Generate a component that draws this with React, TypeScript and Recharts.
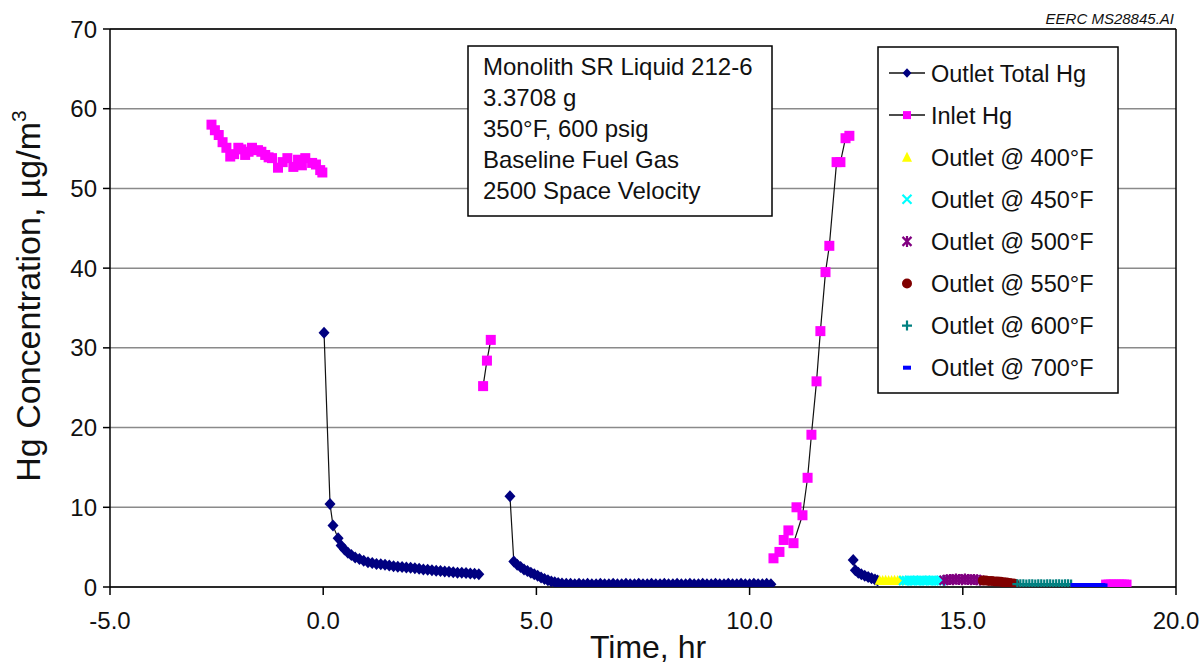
import React from 'react';
import { ScatterChart, Scatter, XAxis, YAxis, CartesianGrid, ReferenceLine } from 'recharts';

type Pt = [number, number];

// Outlet Total Hg, three runs of readings
const outletTotalA: Pt[] = [
  [0.02, 31.9], [0.16, 10.4], [0.23, 7.7], [0.35, 6.1], [0.42, 5.2], [0.5, 4.7], [0.58, 4.3], [0.66, 4.0],
  [0.75, 3.7], [0.85, 3.5], [0.95, 3.3], [1.05, 3.1], [1.15, 3.0], [1.25, 2.9], [1.35, 2.85], [1.45, 2.8],
  [1.55, 2.7], [1.65, 2.6], [1.75, 2.55], [1.85, 2.5], [1.95, 2.45], [2.05, 2.4], [2.15, 2.35], [2.25, 2.3],
  [2.35, 2.2], [2.45, 2.15], [2.55, 2.1], [2.65, 2.05], [2.75, 2.0], [2.85, 1.95], [2.95, 1.9], [3.05, 1.85],
  [3.15, 1.8], [3.25, 1.8], [3.35, 1.75], [3.45, 1.7], [3.55, 1.65], [3.65, 1.6],
];
const outletTotalB: Pt[] = [
  [4.38, 11.4], [4.47, 3.2], [4.55, 2.8], [4.63, 2.5], [4.71, 2.2], [4.79, 2.0], [4.87, 1.8], [4.95, 1.6],
  [5.03, 1.4], [5.11, 1.2], [5.19, 1.0], [5.27, 0.85], [5.35, 0.7], [5.43, 0.6], [5.51, 0.5], [5.6, 0.45],
  [5.7, 0.4], [5.8, 0.4], [5.9, 0.35], [6.0, 0.4], [6.1, 0.35], [6.2, 0.4], [6.3, 0.35], [6.4, 0.35],
  [6.5, 0.4], [6.6, 0.35], [6.7, 0.35], [6.8, 0.4], [6.9, 0.35], [7.0, 0.35], [7.1, 0.4], [7.2, 0.35],
  [7.3, 0.35], [7.4, 0.4], [7.5, 0.35], [7.6, 0.35], [7.7, 0.4], [7.8, 0.35], [7.9, 0.35], [8.0, 0.4],
  [8.1, 0.35], [8.2, 0.35], [8.3, 0.4], [8.4, 0.35], [8.5, 0.35], [8.6, 0.4], [8.7, 0.35], [8.8, 0.35],
  [8.9, 0.4], [9.0, 0.35], [9.1, 0.35], [9.2, 0.4], [9.3, 0.35], [9.4, 0.35], [9.5, 0.4], [9.6, 0.35],
  [9.7, 0.35], [9.8, 0.4], [9.9, 0.35], [10.0, 0.35], [10.1, 0.4], [10.2, 0.35], [10.3, 0.35], [10.4, 0.4],
  [10.5, 0.35],
];
const outletTotalC: Pt[] = [
  [12.43, 3.4], [12.48, 2.1], [12.55, 1.8], [12.62, 1.6], [12.7, 1.4], [12.78, 1.25], [12.86, 1.1],
  [12.94, 0.95], [13.0, 0.8],
];

// Inlet Hg
const inletA: Pt[] = [
  [-2.62, 58.0], [-2.54, 57.3], [-2.45, 56.7], [-2.36, 55.8], [-2.27, 55.1], [-2.18, 54.0], [-2.09, 54.3],
  [-1.99, 55.1], [-1.92, 54.9], [-1.83, 54.2], [-1.75, 54.6], [-1.67, 55.1], [-1.53, 54.8], [-1.45, 54.6],
  [-1.36, 54.2], [-1.28, 53.9], [-1.2, 53.8], [-1.06, 52.6], [-0.95, 53.3], [-0.84, 53.8], [-0.7, 52.7],
  [-0.59, 53.6], [-0.5, 52.9], [-0.42, 53.8], [-0.26, 53.2], [-0.17, 53.0], [-0.07, 52.3], [-0.02, 52.0],
];
const inletB: Pt[] = [[3.75, 25.2], [3.84, 28.4], [3.93, 31.0]];
const inletC: Pt[] = [[10.56, 3.6], [10.7, 4.4], [10.8, 5.9], [10.91, 7.1], [11.1, 10.0]];
const inletD: Pt[] = [
  [11.03, 5.5], [11.24, 9.0], [11.36, 13.7], [11.45, 19.1], [11.57, 25.8], [11.66, 32.1], [11.78, 39.5],
  [11.87, 42.8], [12.04, 53.3], [12.13, 53.3], [12.25, 56.3], [12.34, 56.6],
];
const inletE: Pt[] = [
  [18.36, 0.3], [18.42, 0.3], [18.48, 0.3], [18.54, 0.3], [18.6, 0.3], [18.66, 0.3], [18.72, 0.3],
  [18.78, 0.3], [18.84, 0.3],
];

// Outlet at stepped temperatures
const outlet400: Pt[] = [
  [13.05, 0.85], [13.12, 0.8], [13.19, 0.85], [13.26, 0.8], [13.33, 0.8], [13.4, 0.85], [13.47, 0.8], [13.54, 0.8],
];
const outlet450: Pt[] = [
  [13.61, 0.8], [13.68, 0.8], [13.75, 0.85], [13.82, 0.8], [13.89, 0.8], [13.96, 0.8], [14.03, 0.85],
  [14.1, 0.8], [14.17, 0.8], [14.24, 0.8], [14.31, 0.85], [14.38, 0.8], [14.45, 0.8], [14.5, 0.8],
];
const outlet500: Pt[] = [
  [14.56, 0.85], [14.63, 0.9], [14.7, 0.95], [14.77, 0.9], [14.84, 1.0], [14.91, 0.95], [14.98, 0.9],
  [15.05, 1.0], [15.12, 0.95], [15.19, 0.9], [15.26, 0.95], [15.33, 0.9], [15.4, 0.85],
];
const outlet550: Pt[] = [
  [15.47, 0.8], [15.54, 0.8], [15.61, 0.75], [15.68, 0.75], [15.75, 0.7], [15.82, 0.7], [15.89, 0.65],
  [15.96, 0.6], [16.03, 0.55], [16.1, 0.5], [16.17, 0.45], [16.22, 0.4],
];
const outlet600: Pt[] = [
  [16.28, 0.35], [16.35, 0.35], [16.42, 0.35], [16.49, 0.3], [16.56, 0.35], [16.63, 0.35], [16.7, 0.3],
  [16.77, 0.35], [16.84, 0.35], [16.91, 0.3], [16.98, 0.35], [17.05, 0.35], [17.12, 0.3], [17.19, 0.35],
  [17.26, 0.35], [17.33, 0.3], [17.4, 0.35], [17.47, 0.35], [17.54, 0.3],
];
const outlet700: Pt[] = [
  [17.62, 0.25], [17.69, 0.25], [17.76, 0.2], [17.83, 0.25], [17.9, 0.2], [17.97, 0.25], [18.04, 0.2],
  [18.11, 0.25], [18.18, 0.2], [18.25, 0.25], [18.3, 0.2],
];

const xTicks = [-5, 0, 5, 10, 15, 20];
const yTicks = [0, 10, 20, 30, 40, 50, 60, 70];

const legendItems = [
  { name: 'Outlet Total Hg', kind: 'diamond', line: true },
  { name: 'Inlet Hg', kind: 'square', line: true },
  { name: 'Outlet @ 400°F', kind: 'triangle', line: false },
  { name: 'Outlet @ 450°F', kind: 'x', line: false },
  { name: 'Outlet @ 500°F', kind: 'star', line: false },
  { name: 'Outlet @ 550°F', kind: 'circle', line: false },
  { name: 'Outlet @ 600°F', kind: 'plus', line: false },
  { name: 'Outlet @ 700°F', kind: 'dash', line: false },
];

const noteLines = [
  'Monolith SR Liquid 212-6',
  '3.3708 g',
  '350°F, 600 psig',
  'Baseline Fuel Gas',
  '2500 Space Velocity',
];

const FONT = '"Liberation Sans", Arial, Helvetica, sans-serif';

const toPts = (arr: Pt[]) => arr.map(([x, y]) => ({ x, y }));

function Marker({ kind, cx, cy, s = 1 }: { kind: string; cx: number; cy: number; s?: number }) {
  switch (kind) {
    case 'diamond':
      return <path d={`M${cx},${cy - 6 * s}L${cx + 5.5 * s},${cy}L${cx},${cy + 6 * s}L${cx - 5.5 * s},${cy}Z`} fill="#000080" />;
    case 'square':
      return <rect x={cx - 5 * s} y={cy - 5 * s} width={10 * s} height={10 * s} fill="#ff00ff" />;
    case 'triangle':
      return <path d={`M${cx},${cy - 5.5}L${cx + 5},${cy + 4.5}L${cx - 5},${cy + 4.5}Z`} fill="#ffff00" />;
    case 'x':
      return (
        <path d={`M${cx - 4.5},${cy - 4.5}L${cx + 4.5},${cy + 4.5}M${cx + 4.5},${cy - 4.5}L${cx - 4.5},${cy + 4.5}`}
          stroke="#00ffff" strokeWidth={2.2} />
      );
    case 'star':
      return (
        <path d={`M${cx - 4.5},${cy - 4.5}L${cx + 4.5},${cy + 4.5}M${cx + 4.5},${cy - 4.5}L${cx - 4.5},${cy + 4.5}M${cx},${cy - 5.5}L${cx},${cy + 5.5}`}
          stroke="#800080" strokeWidth={2.2} />
      );
    case 'circle':
      return <circle cx={cx} cy={cy} r={5} fill="#800000" />;
    case 'plus':
      return (
        <path d={`M${cx - 5},${cy}L${cx + 5},${cy}M${cx},${cy - 5}L${cx},${cy + 5}`}
          stroke="#008080" strokeWidth={2.2} />
      );
    default:
      return <rect x={cx - 4} y={cy - 2} width={8} height={4} fill="#0000ff" />;
  }
}

const shapeOf = (kind: string) => (p: any) => <Marker kind={kind} cx={p.cx} cy={p.cy} />;

const seriesLine = { stroke: '#111', strokeWidth: 1.2 };

export default function App() {
  return (
    <div style={{ position: 'absolute', left: 0, top: 0, width: 1203, height: 664, background: '#fff' }}>
      <ScatterChart width={1203} height={664} margin={{ top: 29, right: 27, bottom: 47, left: 0 }}>
        <CartesianGrid vertical={false} stroke="#8a8a8a" strokeWidth={1.5} />
        <XAxis
          type="number"
          dataKey="x"
          domain={[-5, 20]}
          ticks={xTicks}
          tickFormatter={(v: number) => v.toFixed(1)}
          height={30}
          tickSize={8}
          tickMargin={17}
          stroke="#000"
          strokeWidth={1.5}
          tick={{ fill: '#111', fontSize: 24, fontFamily: FONT }}
          allowDataOverflow
        />
        <YAxis
          type="number"
          dataKey="y"
          domain={[0, 70]}
          ticks={yTicks}
          width={110}
          tickSize={7}
          tickMargin={6}
          stroke="#000"
          strokeWidth={1.5}
          tick={{ fill: '#111', fontSize: 24, fontFamily: FONT }}
          allowDataOverflow
        />
        <ReferenceLine y={70} stroke="#000" strokeWidth={1.5} />
        <ReferenceLine x={20} stroke="#000" strokeWidth={1.5} />

        <Scatter name="Outlet Total Hg" data={toPts(outletTotalA)} line={seriesLine} shape={shapeOf('diamond')} isAnimationActive={false} />
        <Scatter data={toPts(outletTotalB)} line={seriesLine} shape={shapeOf('diamond')} isAnimationActive={false} />
        <Scatter data={toPts(outletTotalC)} line={seriesLine} shape={shapeOf('diamond')} isAnimationActive={false} />

        <Scatter name="Inlet Hg" data={toPts(inletA)} shape={shapeOf('square')} isAnimationActive={false} />
        <Scatter data={toPts(inletB)} line={seriesLine} shape={shapeOf('square')} isAnimationActive={false} />
        <Scatter data={toPts(inletC)} shape={shapeOf('square')} isAnimationActive={false} />
        <Scatter data={toPts(inletD)} line={seriesLine} shape={shapeOf('square')} isAnimationActive={false} />
        <Scatter data={toPts(inletE)} shape={shapeOf('square')} isAnimationActive={false} />

        <Scatter name="Outlet @ 400°F" data={toPts(outlet400)} shape={shapeOf('triangle')} isAnimationActive={false} />
        <Scatter name="Outlet @ 450°F" data={toPts(outlet450)} shape={shapeOf('x')} isAnimationActive={false} />
        <Scatter name="Outlet @ 500°F" data={toPts(outlet500)} shape={shapeOf('star')} isAnimationActive={false} />
        <Scatter name="Outlet @ 550°F" data={toPts(outlet550)} shape={shapeOf('circle')} isAnimationActive={false} />
        <Scatter name="Outlet @ 600°F" data={toPts(outlet600)} shape={shapeOf('plus')} isAnimationActive={false} />
        <Scatter name="Outlet @ 700°F" data={toPts(outlet700)} shape={shapeOf('dash')} isAnimationActive={false} />
      </ScatterChart>

      <svg width={1203} height={664} style={{ position: 'absolute', left: 0, top: 0, pointerEvents: 'none' }}
        fontFamily={FONT}>
        <text x={1174} y={24} textAnchor="end" fontSize={15} fontStyle="italic" fill="#111">EERC MS28845.AI</text>

        <text x={40} y={296} transform="rotate(-90 40 296)" textAnchor="middle" fontSize={34} fill="#111">
          Hg Concentration, µg/m<tspan fontSize={21} dy={-14}>3</tspan>
        </text>
        <text x={648} y={658} textAnchor="middle" fontSize={32} fill="#111">Time, hr</text>

        <rect x={468} y={46} width={304} height={170} fill="#fff" stroke="#000" strokeWidth={1.5} />
        {noteLines.map((t, i) => (
          <text key={t} x={483} y={75 + i * 31} fontSize={24} fill="#111">{t}</text>
        ))}

        <rect x={878} y={47} width={240} height={346} fill="#fff" stroke="#000" strokeWidth={1.5} />
        {legendItems.map((it, i) => {
          const cy = 73 + i * 42.1;
          return (
            <g key={it.name}>
              {it.line && <line x1={889} x2={925} y1={cy} y2={cy} stroke="#111" strokeWidth={1.5} />}
              <Marker kind={it.kind} cx={907} cy={cy} s={0.8} />
              <text x={931} y={cy + 8.5} fontSize={23.5} fill="#111">{it.name}</text>
            </g>
          );
        })}
      </svg>
    </div>
  );
}
